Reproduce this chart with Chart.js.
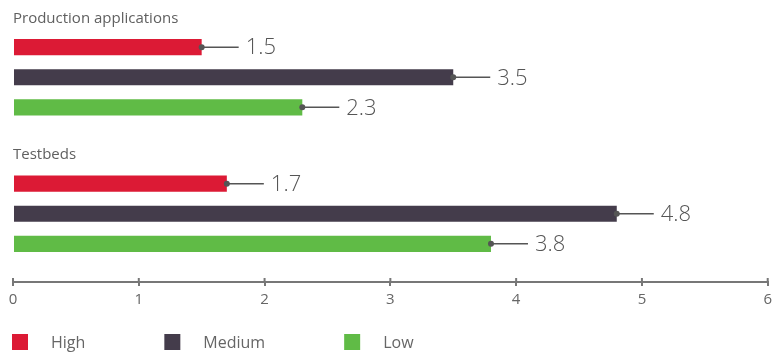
<!DOCTYPE html>
<html>
<head>
<meta charset="utf-8">
<title>Testbeds vs production applications</title>
<script src="https://cdn.jsdelivr.net/npm/chart.js@4"></script>
<style>
  html, body { margin: 0; padding: 0; background: #fff; }
  #wrap { width: 777px; height: 355px; }
</style>
</head>
<body>
<div id="wrap"><canvas id="chart" width="777" height="355"></canvas></div>
<script>
// Groups shown on the vertical axis, one row of bars per level
const groups = ['Production applications', 'Testbeds'];
const levels = ['High', 'Medium', 'Low'];
const highValues = [1.5, 1.7];
const mediumValues = [3.5, 4.8];
const lowValues = [2.3, 3.8];
const xTicks = [0, 1, 2, 3, 4, 5, 6];

const colors = ['#dc1a35', '#443c4b', '#60bb46'];
const FONT = '"Open Sans", "DejaVu Sans", sans-serif';

// value callouts: dot at the bar end, short leader, number
const callouts = {
  id: 'callouts',
  afterDatasetsDraw(chart) {
    const ctx = chart.ctx;
    ctx.save();
    chart.data.datasets.forEach((ds, di) => {
      chart.getDatasetMeta(di).data.forEach((bar, i) => {
        ctx.strokeStyle = '#555';
        ctx.fillStyle = '#555';
        ctx.lineWidth = 1.5;
        ctx.beginPath();
        ctx.moveTo(bar.x, bar.y);
        ctx.lineTo(bar.x + 37, bar.y);
        ctx.stroke();
        ctx.beginPath();
        ctx.arc(bar.x, bar.y, 3, 0, Math.PI * 2);
        ctx.fill();
        ctx.font = '300 22px ' + FONT;
        ctx.textAlign = 'left';
        ctx.textBaseline = 'middle';
        ctx.fillText(ds.data[i].toFixed(1), bar.x + 44, bar.y + 1);
      });
    });
    ctx.restore();
  }
};

// group headings above each set of bars, plus the upper half of the x ticks
const headings = {
  id: 'headings',
  afterDraw(chart) {
    const ctx = chart.ctx;
    const y = chart.scales.y;
    const x = chart.scales.x;
    ctx.save();
    ctx.font = '15px ' + FONT;
    ctx.fillStyle = '#606060';
    ctx.textAlign = 'left';
    ctx.textBaseline = 'middle';
    groups.forEach((g, i) => {
      ctx.fillText(g, chart.chartArea.left, y.getPixelForValue(i) - 59);
    });
    ctx.strokeStyle = '#777';
    ctx.lineWidth = 2;
    xTicks.forEach(t => {
      const px = x.getPixelForValue(t);
      ctx.beginPath();
      ctx.moveTo(px, x.top - 4);
      ctx.lineTo(px, x.top);
      ctx.stroke();
    });

    // legend along the bottom
    let lx = 12;
    const ly = 342;
    ctx.font = '16px ' + FONT;
    chart.data.datasets.forEach(ds => {
      ctx.fillStyle = ds.backgroundColor;
      ctx.fillRect(lx, ly - 8, 16, 16);
      ctx.fillStyle = '#666';
      ctx.fillText(ds.label, lx + 39, ly + 1);
      lx += 39 + ctx.measureText(ds.label).width + 79;
    });
    ctx.restore();
  }
};

new Chart(document.getElementById('chart'), {
  type: 'bar',
  data: {
    labels: groups,
    datasets: [
      { label: levels[0], data: highValues, backgroundColor: colors[0] },
      { label: levels[1], data: mediumValues, backgroundColor: colors[1] },
      { label: levels[2], data: lowValues, backgroundColor: colors[2] }
    ]
  },
  options: {
    indexAxis: 'y',
    responsive: false,
    animation: false,
    categoryPercentage: 0.662,
    barPercentage: 0.533,
    layout: { padding: { top: 9, left: 13, right: 9, bottom: 41 } },
    plugins: {
      legend: { display: false },
      tooltip: { enabled: false }
    },
    scales: {
      y: {
        display: false
      },
      x: {
        min: 0,
        max: 6,
        afterBuildTicks(scale) {
          scale.ticks = xTicks.map(v => ({ value: v }));
        },
        border: { display: true, color: '#777', width: 2 },
        grid: { display: true, drawOnChartArea: false, drawTicks: true, tickLength: 4, color: '#777', lineWidth: 2 },
        ticks: {
          padding: 5,
          color: '#666',
          font: { family: FONT, size: 15 },
          maxRotation: 0
        }
      }
    }
  },
  plugins: [callouts, headings]
});
</script>
</body>
</html>
